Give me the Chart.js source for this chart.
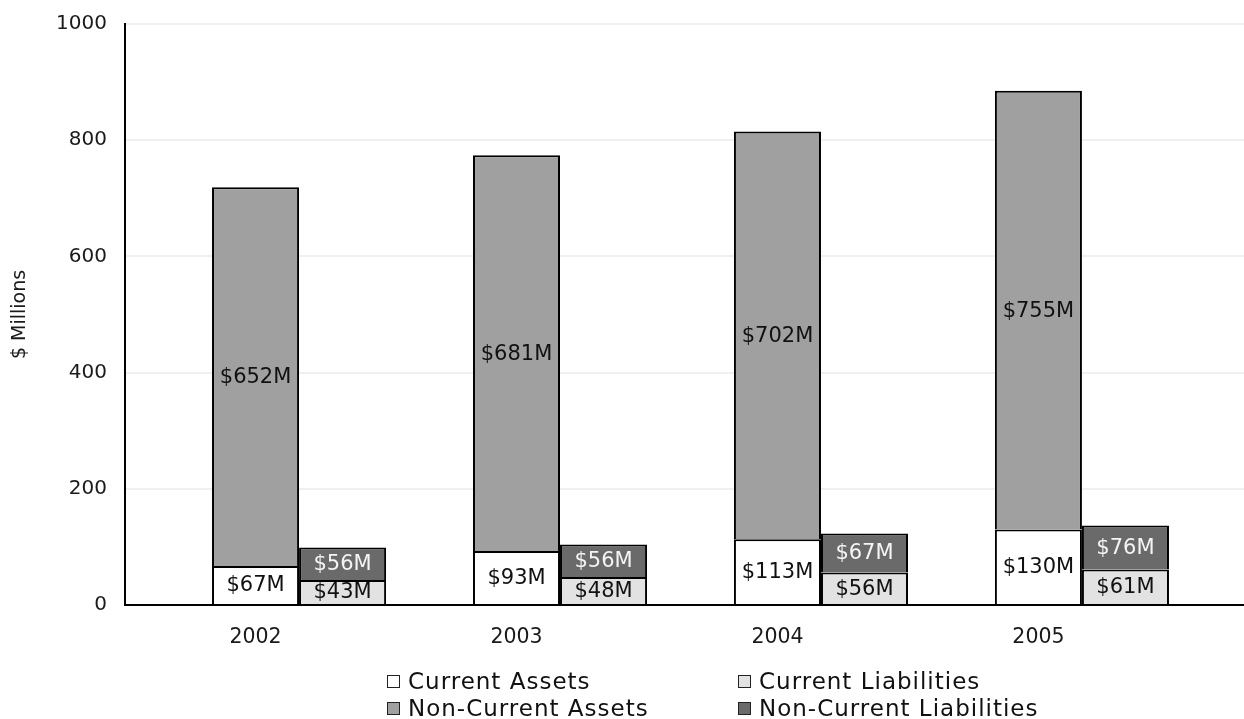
<!DOCTYPE html>
<html>
<head>
<meta charset="utf-8">
<script src="https://cdn.jsdelivr.net/npm/chart.js@4/dist/chart.umd.min.js"></script>
<style>
  body { margin:0; background:#fff; }
  #wrap { position:relative; width:1244px; height:719px; }
  #legend { position:absolute; left:387px; top:669px; display:grid; grid-template-columns:351px auto; row-gap:3px;
            font-family:'DejaVu Sans', sans-serif; font-size:23px; letter-spacing:1px; color:#111; }
  .item { display:flex; align-items:center; height:24px; }
  .box { width:11px; height:11px; border:1.6px solid #222; margin-right:8px; flex:none; }
</style>
</head>
<body>
<div id="wrap">
  <canvas id="chart"></canvas>
  <div id="legend"></div>
</div>
<script>
// ── data ────────────────────────────────────────────
const years            = ['2002','2003','2004','2005'];
const xPos             = [0, 1, 2, 3];
const currentAssets    = [67, 93, 113, 130];
const nonCurrentAssets = [652, 681, 702, 755];
const currentLiab      = [43, 48, 56, 61];
const nonCurrentLiab   = [56, 56, 67, 76];
const yTicks           = [0, 200, 400, 600, 800, 1000];

const C = { ca:'#ffffff', nca:'#a0a0a0', cl:'#e2e2e2', ncl:'#6a6a6a', line:'#000', grid:'#f0f0f0', text:'#1a1a1a' };
const FONT = "'DejaVu Sans', sans-serif";

const series = [
  { label:'Current Assets',          data:currentAssets,    stack:'assets', color:C.ca,  txt:'#111' },
  { label:'Non-Current Assets',      data:nonCurrentAssets, stack:'assets', color:C.nca, txt:'#111' },
  { label:'Current Liabilities',     data:currentLiab,      stack:'liab',   color:C.cl,  txt:'#111' },
  { label:'Non-Current Liabilities', data:nonCurrentLiab,   stack:'liab',   color:C.ncl, txt:'#f4f4f4' },
];

// legend (2x2 grid, column order like the original)
const legendOrder = [0, 2, 1, 3];
document.getElementById('legend').innerHTML = legendOrder.map(i =>
  `<div class="item"><span class="box" style="background:${series[i].color}"></span>${series[i].label}</div>`).join('');

// value labels centred in each segment
const segLabels = {
  id:'segLabels',
  afterDatasetsDraw(chart) {
    const ctx = chart.ctx;
    ctx.save();
    ctx.font = '21px ' + FONT;
    ctx.textAlign = 'center';
    ctx.textBaseline = 'middle';
    chart.data.datasets.forEach((ds, di) => {
      chart.getDatasetMeta(di).data.forEach((bar, i) => {
        ctx.fillStyle = series[di].txt;
        ctx.fillText('$' + ds.data[i] + 'M', bar.x, (bar.y + bar.base) / 2 + 1);
      });
    });
    ctx.restore();
  }
};

new Chart(document.getElementById('chart'), {
  type:'bar',
  data:{
    labels:xPos,
    datasets:series.map(s => ({
      label:s.label, data:s.data, stack:s.stack, backgroundColor:s.color,
      borderColor:C.line, borderWidth:2
    }))
  },
  options:{
    responsive:true, maintainAspectRatio:false, animation:false,
    categoryPercentage:0.667, barPercentage:1,
    layout:{ padding:{ top:24, right:0, bottom:62, left:0 } },
    plugins:{ legend:{ display:false }, tooltip:{ enabled:false } },
    scales:{
      x:{
        type:'linear', min:-0.667, max:3.621, offset:false, stacked:true,
        grid:{ display:false, drawTicks:false },
        border:{ color:C.line, width:2 },
        afterBuildTicks:s => { s.ticks = xPos.map(v => ({ value:v })); },
        afterFit:s => { s.height = 52; s.paddingLeft = 0; s.paddingRight = 0; },
        ticks:{ color:C.text, font:{ family:FONT, size:20.5 }, padding:20, labelOffset:-43.5, maxRotation:0,
                callback:v => years[xPos.indexOf(v)] }
      },
      y:{
        min:0, max:1000, stacked:true,
        grid:{ color:C.grid, lineWidth:2, drawTicks:false },
        border:{ color:C.line, width:2 },
        afterBuildTicks:s => { s.ticks = yTicks.map(v => ({ value:v })); },
        afterFit:s => { s.width = 125; s.paddingTop = 0; s.paddingBottom = 0; },
        ticks:{ color:C.text, font:{ family:FONT, size:20 }, padding:18, callback:v => String(v) },
        title:{ display:true, text:'$ Millions', color:C.text, font:{ family:FONT, size:19 }, padding:{ top:9, bottom:0 } }
      }
    }
  },
  plugins:[segLabels]
});
</script>
</body>
</html>
